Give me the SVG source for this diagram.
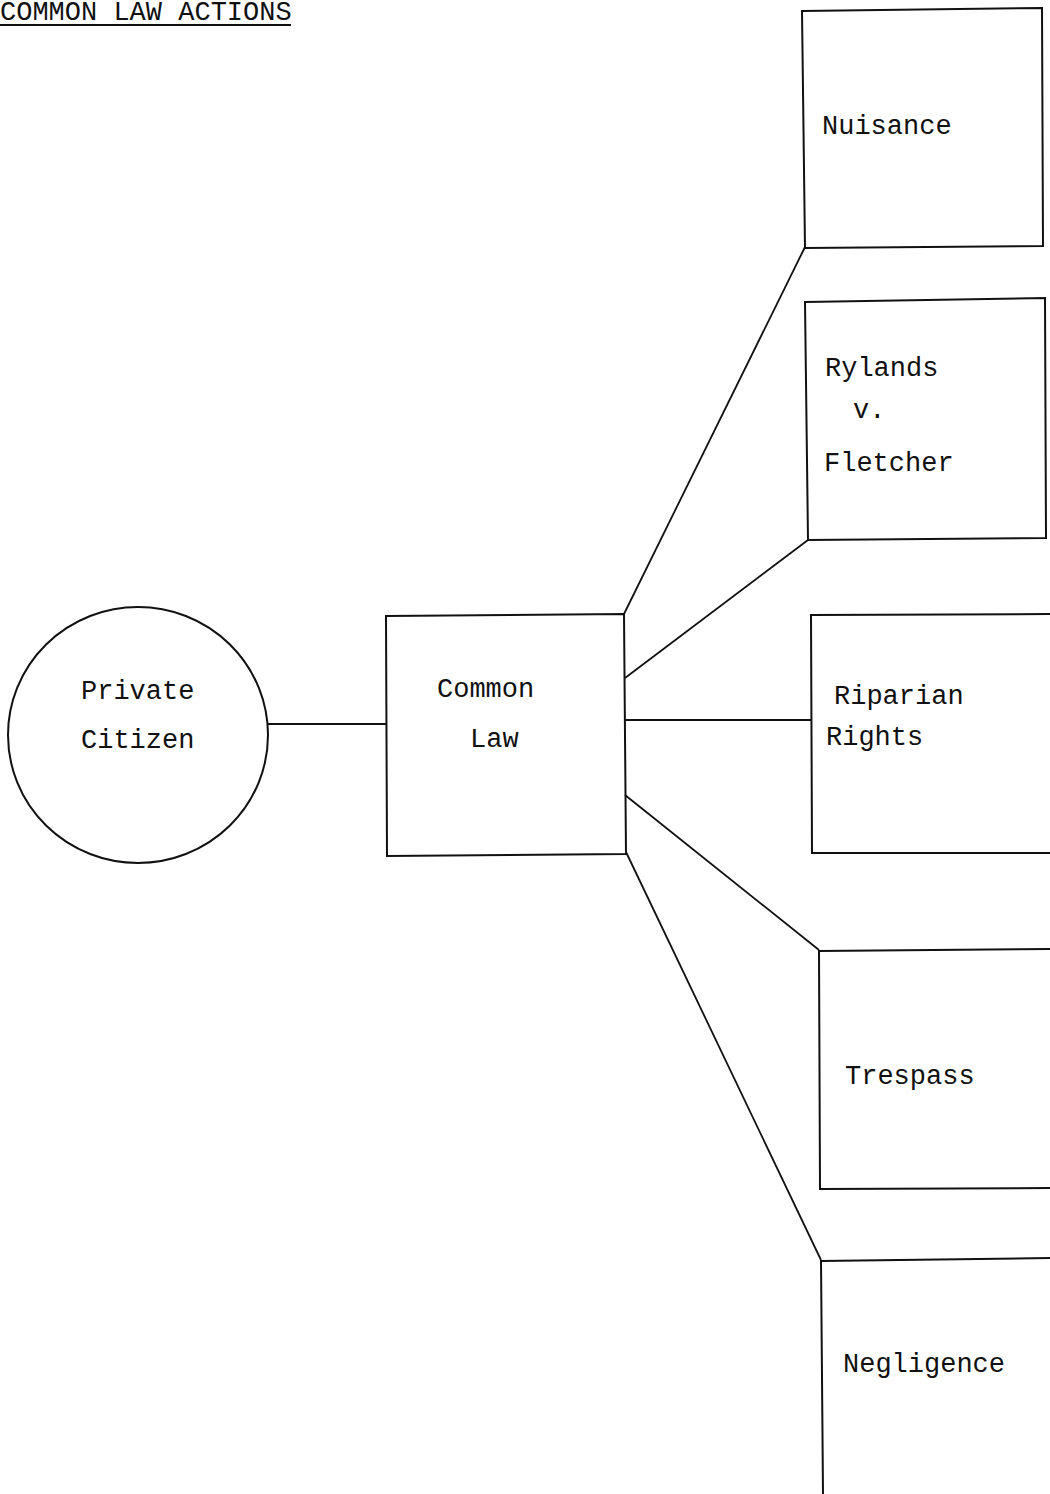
<svg xmlns="http://www.w3.org/2000/svg" width="1050" height="1494" viewBox="0 0 1050 1494">
  <style>
    .shape { fill: none; stroke: #111; stroke-width: 2; }
    .link { stroke: #111; stroke-width: 1.8; fill: none; }
    .label { font-family: "Liberation Mono", "Courier New", monospace; font-size: 27px; fill: #111; }
  </style>
  <rect width="1050" height="1494" fill="#fff"/>

  <!-- heading -->
  <g id="title">
    <text class="label" x="0" y="20">COMMON LAW ACTIONS</text>
    <line class="link" x1="0" y1="25" x2="291" y2="25"/>
  </g>

  <!-- connectors -->
  <g id="connectors">
    <line class="link" x1="268" y1="724" x2="386" y2="724"/>
    <line class="link" x1="624" y1="614" x2="805" y2="247"/>
    <line class="link" x1="625" y1="678" x2="808" y2="540"/>
    <line class="link" x1="625" y1="720" x2="811" y2="720"/>
    <line class="link" x1="625" y1="795" x2="819" y2="950"/>
    <line class="link" x1="626" y1="852" x2="821" y2="1260"/>
  </g>

  <g id="private-citizen">
    <ellipse class="shape" cx="138" cy="735" rx="130" ry="128"/>
    <text class="label" x="81" y="699">Private</text>
    <text class="label" x="81" y="748">Citizen</text>
  </g>

  <g id="common-law">
    <path class="shape" d="M386 616 L624 614 L626 854 L387 856 Z"/>
    <text class="label" x="437" y="697">Common</text>
    <text class="label" x="470" y="747">Law</text>
  </g>

  <g id="nuisance">
    <path class="shape" d="M802 11 L1042 8 L1043 246 L805 248 Z"/>
    <text class="label" x="822" y="134">Nuisance</text>
  </g>

  <g id="rylands-v-fletcher">
    <path class="shape" d="M805 302 L1045 298 L1046 538 L808 540 Z"/>
    <text class="label" x="825" y="376">Rylands</text>
    <text class="label" x="853" y="418">v.</text>
    <text class="label" x="824" y="471">Fletcher</text>
  </g>

  <g id="riparian-rights">
    <path class="shape" d="M1050 614 L811 615 L812 853 L1050 853"/>
    <text class="label" x="834" y="704">Riparian</text>
    <text class="label" x="826" y="745">Rights</text>
  </g>

  <g id="trespass">
    <path class="shape" d="M1050 949 L819 951 L820 1189 L1050 1188"/>
    <text class="label" x="845" y="1084">Trespass</text>
  </g>

  <g id="negligence">
    <path class="shape" d="M1050 1258 L821 1261 L823 1494"/>
    <text class="label" x="843" y="1372">Negligence</text>
  </g>
</svg>
